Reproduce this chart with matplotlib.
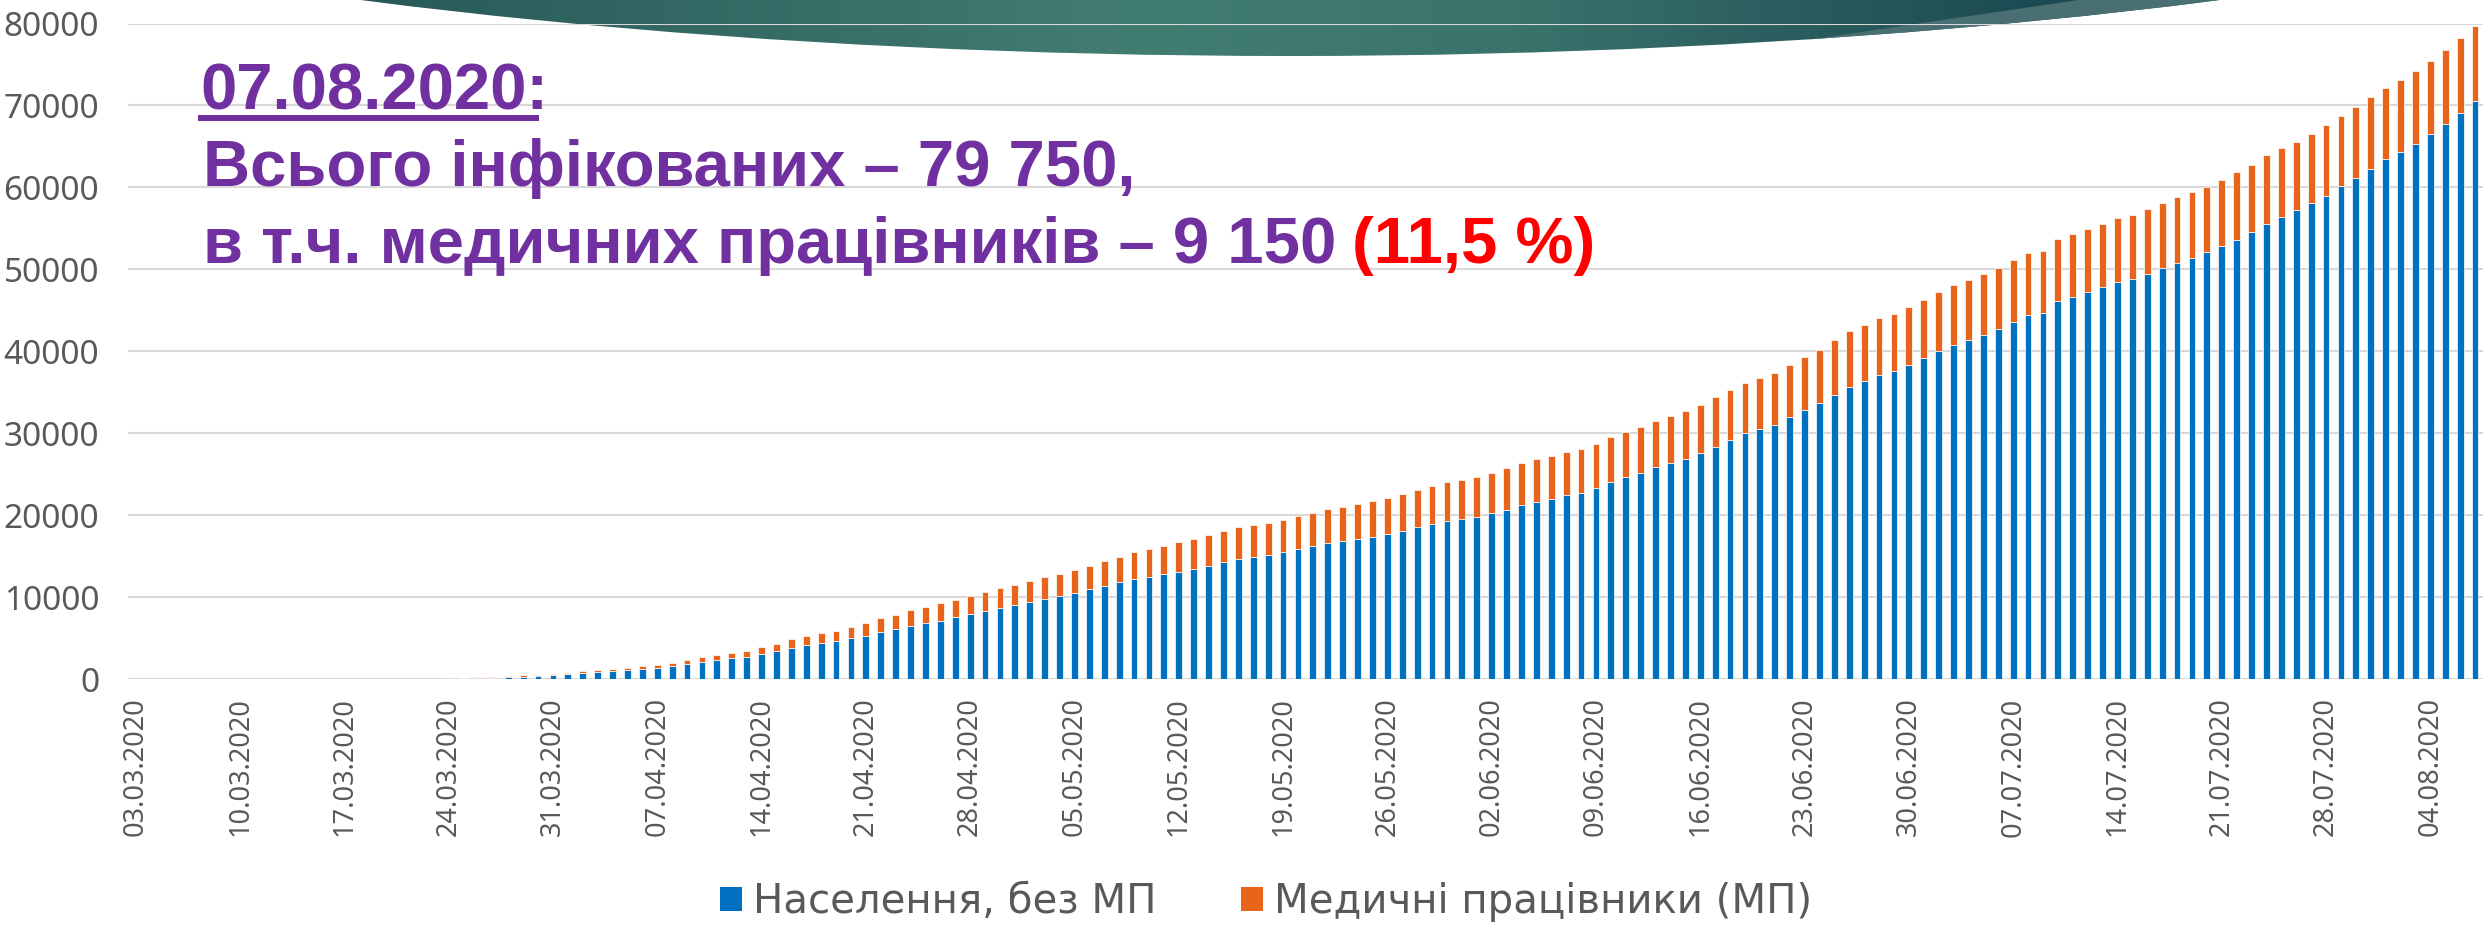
import numpy as np
import pandas as pd
import matplotlib
matplotlib.use("Agg")
import matplotlib.pyplot as plt
from matplotlib.patches import Ellipse, Polygon, Rectangle, Patch
from matplotlib.colors import LinearSegmentedColormap

# ---------------- data ----------------
dates = pd.date_range("2020-03-03", "2020-08-07", freq="D")
categories = [d.strftime("%d.%m.%Y") for d in dates]

population = [
    1, 1, 1, 1, 1, 1, 1, 1, 1, 1, 2, 2, 2, 2, 5, 10, 12, 20, 30, 30,
    50, 80, 130, 180, 210, 250, 330, 410, 535, 655, 780, 900, 1065, 1105, 1270, 1395, 1640, 1885, 2130, 2375,
    2540, 2745, 3075, 3400, 3850, 4180, 4465, 4715, 5000, 5325, 5820, 6145, 6555, 6925, 7170, 7540, 7910, 8320, 8750, 9100,
    9470, 9840, 10205, 10570, 10980, 11350, 11840, 12205, 12530, 12815, 13145, 13510, 13880, 14370, 14735, 14940, 15145, 15470, 15880, 16205,
    16575, 16860, 17065, 17350, 17675, 18085, 18530, 18900, 19265, 19510, 19755, 20265, 20690, 21215, 21580, 22025, 22435, 22760, 23285, 24055,
    24625, 25190, 25840, 26330, 26895, 27625, 28395, 29250, 30020, 30590, 31075, 32010, 32840, 33680, 34625, 35715, 36425, 37080, 37570, 38330,
    39205, 40020, 40840, 41440, 42040, 42695, 43620, 44440, 44655, 46185, 46675, 47220, 47820, 48420, 48800, 49455, 50165, 50765, 51420, 52125,
    52835, 53600, 54580, 55560, 56435, 57305, 58125, 59000, 60140, 61180, 62270, 63415, 64340, 65270, 66575, 67775, 69085, 70600,
]
medical = [
    0, 0, 0, 0, 0, 0, 0, 0, 0, 0, 0, 0, 0, 0, 0, 0, 0, 0, 0, 20,
    25, 25, 30, 40, 50, 120, 160, 120, 165, 165, 205, 205, 245, 290, 330, 325, 325, 410, 535, 615,
    655, 740, 820, 945, 1025, 1145, 1230, 1225, 1395, 1520, 1640, 1680, 1845, 1925, 2090, 2130, 2210, 2335, 2330, 2410,
    2530, 2610, 2655, 2780, 2900, 3100, 3100, 3265, 3350, 3390, 3550, 3595, 3715, 3755, 3795, 3835, 3960, 3960, 4040, 4125,
    4200, 4205, 4325, 4405, 4450, 4530, 4615, 4695, 4780, 4820, 4940, 4905, 5030, 5115, 5235, 5275, 5270, 5355, 5435, 5480,
    5555, 5640, 5720, 5760, 5845, 5885, 6005, 6005, 6165, 6205, 6290, 6365, 6465, 6515, 6705, 6815, 6815, 6975, 6980, 7035,
    7090, 7255, 7305, 7305, 7360, 7470, 7470, 7525, 7560, 7580, 7635, 7690, 7740, 7795, 7855, 7960, 7905, 8070, 8015, 7965,
    8125, 8235, 8180, 8345, 8395, 8290, 8450, 8560, 8615, 8670, 8775, 8670, 8780, 8940, 8890, 9000, 9105, 9150,
]
series_names = ["Населення, без МП", "Медичні працівники (МП)"]
yticks = [0, 10000, 20000, 30000, 40000, 50000, 60000, 70000, 80000]

# ---------------- style ----------------
W, H = 2483, 926
BLUE = "#0070C0"
ORANGE = "#E8641A"
GRAY = "#595959"
GRID = "#D9D9D9"
PURPLE = "#7030A0"
RED = "#FF0000"

plt.rcParams["font.family"] = ["Noto Sans", "DejaVu Sans"]

fig = plt.figure(figsize=(W / 100, H / 100), dpi=100)
fig.patch.set_facecolor("white")

# ---------- background decoration (teal header shape) ----------
bg = fig.add_axes([0, 0, 1, 1], zorder=0)
bg.set_xlim(0, W)
bg.set_ylim(H, 0)
bg.axis("off")

ell_cx, ell_cy, ell_a, ell_b = 1290, -412, 1961, 468
ellipse = Ellipse((ell_cx, ell_cy), 2 * ell_a, 2 * ell_b, facecolor="none", edgecolor="none")
bg.add_patch(ellipse)
cmap = LinearSegmentedColormap.from_list(
    "teal", [(0.0, "#285959"), (0.42, "#427D72"), (0.62, "#3A736C"), (0.9, "#1D4B53"), (1.0, "#1C4951")]
)
grad = np.linspace(0, 1, 512).reshape(1, -1)
img = bg.imshow(grad, cmap=cmap, extent=(357, 2220, 80, -5), aspect="auto", interpolation="bilinear")
img.set_clip_path(ellipse)
sliver = Polygon([(1800, 41), (2092, -2), (2300, -2), (2300, 80)], closed=True,
                 facecolor="#4A6F73", edgecolor="none")
bg.add_patch(sliver)
sliver.set_clip_path(ellipse)

# ---------- main chart ----------
left = 128.3 / W
bottom = (H - 679.3) / H
ax = fig.add_axes([left, bottom, (2482.5 - 128.3) / W, (679.3 - 23.5) / H], zorder=1)
ax.patch.set_alpha(0)

x = np.arange(len(categories))
bw = 0.45
ax.bar(x, population, width=bw, color=BLUE, edgecolor="white", linewidth=0.5, zorder=3)
ax.bar(x, medical, width=bw, bottom=population, color=ORANGE, edgecolor="white", linewidth=0.5, zorder=3)

ax.set_xlim(-0.5, len(categories) - 0.5)
ax.set_ylim(0, 80000)
ax.set_yticks(yticks)
ax.set_yticklabels([str(v) for v in yticks])
ax.yaxis.grid(True, color=GRID, linewidth=1.5, zorder=0)
ax.set_axisbelow(True)
for s in ax.spines.values():
    s.set_visible(False)

tick_pos = x[::7]
ax.set_xticks(tick_pos)
ax.set_xticklabels([categories[i] for i in tick_pos], rotation=90, fontsize=19.5, color=GRAY)
ax.tick_params(axis="x", length=0, pad=13)
ax.tick_params(axis="y", length=0, pad=21, labelsize=24, labelcolor=GRAY)

# ---------- legend ----------
handles = [Patch(facecolor=BLUE, edgecolor="none"), Patch(facecolor=ORANGE, edgecolor="none")]
fig.legend(handles, series_names, ncol=2, loc="center",
           bbox_to_anchor=(1266 / W, 1 - 902 / H), frameon=False,
           prop={"family": ["DejaVu Sans"], "size": 29},
           handlelength=0.55, handleheight=0.55, handletextpad=0.27, columnspacing=2.08,
           labelcolor=GRAY)

# ---------- annotation text ----------
def fx(px):
    return px / W

def fy(py):
    return 1 - py / H

tfont = dict(family=["Liberation Sans", "DejaVu Sans"], weight="bold", fontsize=47, va="baseline", ha="left")
fig.text(fx(200), fy(109.3), "07.08.2020:", color=PURPLE, zorder=5, **tfont)
fig.add_artist(Rectangle((fx(198), fy(121)), fx(539) - fx(198), fy(115) - fy(121),
                         transform=fig.transFigure, facecolor=PURPLE, edgecolor="none", zorder=5))
fig.text(fx(203), fy(185.7), "Всього інфікованих – 79 750,", color=PURPLE, zorder=5, **tfont)
t3 = fig.text(fx(203), fy(262.7), "в т.ч. медичних працівників – 9 150", color=PURPLE, zorder=5, **tfont)
fig.canvas.draw()
bb = t3.get_window_extent()
fig.text(fx(bb.x1 + 16), fy(262.7), "(11,5 %)", color=RED, zorder=5, **tfont)

fig.savefig("out.png", dpi=100, facecolor="white")
